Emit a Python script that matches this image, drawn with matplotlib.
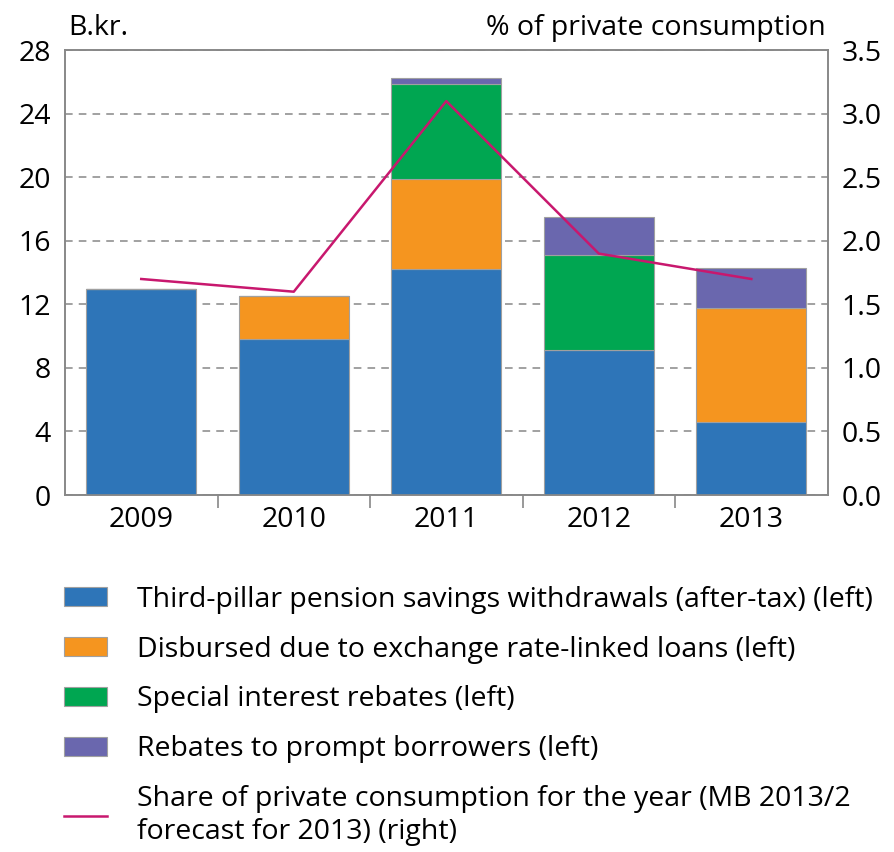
import numpy as np
import matplotlib.pyplot as plt
from matplotlib.patches import Patch
from matplotlib.lines import Line2D

plt.rcParams['font.family'] = ['Open Sans', 'DejaVu Sans']

years = ['2009', '2010', '2011', '2012', '2013']
pension = [13.0, 9.8, 14.2, 9.1, 4.6]
exchange_loans = [0.0, 2.7, 5.7, 0.0, 7.2]
special_rebates = [0.0, 0.0, 6.0, 6.0, 0.0]
prompt_rebates = [0.0, 0.0, 0.35, 2.4, 2.5]
share_consumption = [1.7, 1.6, 3.1, 1.9, 1.7]

labels = ['Third-pillar pension savings withdrawals (after-tax) (left)',
          'Disbursed due to exchange rate-linked loans (left)',
          'Special interest rebates (left)',
          'Rebates to prompt borrowers (left)',
          'Share of private consumption for the year (MB 2013/2\nforecast for 2013) (right)']
colors = ['#2E75B8', '#F5951F', '#00A651', '#6A67AE']
line_color = '#C8186E'
fs = 20.5

fig = plt.figure(figsize=(8.94, 8.52), dpi=100)
ax = fig.add_axes([0.0727, 0.419, 0.853, 0.522])
x = np.arange(len(years))

bottom = np.zeros(len(years))
for vals, c in zip([pension, exchange_loans, special_rebates, prompt_rebates], colors):
    vals = np.array(vals)
    ax.bar(x, vals, 0.72, bottom=bottom, color=c, edgecolor='#A0A0A0',
           linewidth=0.8, zorder=3)
    bottom += vals

ax.set_xlim(-0.5, 4.5)
ax.set_ylim(0, 28)
ax.set_yticks(np.arange(0, 29, 4))
ax.yaxis.grid(True, linestyle=(0, (5, 4)), color='#888888', linewidth=1.1, zorder=0)
ax.set_xticks(x)
ax.set_xticklabels(years, fontsize=fs)
ax.set_xticks(np.arange(0.5, 4.5, 1), minor=True)
ax.tick_params(axis='x', which='major', length=0, pad=8)
ax.tick_params(axis='x', which='minor', length=9, color='#888888', width=1.2)
ax.tick_params(axis='y', length=0, labelsize=fs, pad=10)
for s in ax.spines.values():
    s.set_color('#888888')
    s.set_linewidth(1.2)

ax2 = ax.twinx()
ax2.plot(x, share_consumption, color=line_color, linewidth=1.8, zorder=5)
ax2.set_ylim(0, 3.5)
ax2.set_yticks(np.arange(0, 3.51, 0.5))
ax2.set_yticklabels([f'{v:.1f}' for v in np.arange(0, 3.51, 0.5)])
ax2.tick_params(axis='y', length=0, labelsize=fs, pad=10)
for s in ax2.spines.values():
    s.set_color('#888888')
    s.set_linewidth(1.2)

fig.text(0.076, 0.951, 'B.kr.', fontsize=fs, ha='left', va='bottom')
fig.text(0.924, 0.951, '% of private consumption', fontsize=fs, ha='right', va='bottom')

handles = [Patch(facecolor=c, edgecolor='#A0A0A0', linewidth=0.8) for c in colors]
handles.append(Line2D([0], [0], color=line_color, linewidth=1.8))
fig.legend(handles, labels, loc='upper left', bbox_to_anchor=(0.059, 0.326),
           frameon=False, fontsize=fs, handlelength=1.5, handleheight=0.62,
           handletextpad=1.05, labelspacing=0.77, borderaxespad=0)

fig.savefig('out.png', dpi=100)
